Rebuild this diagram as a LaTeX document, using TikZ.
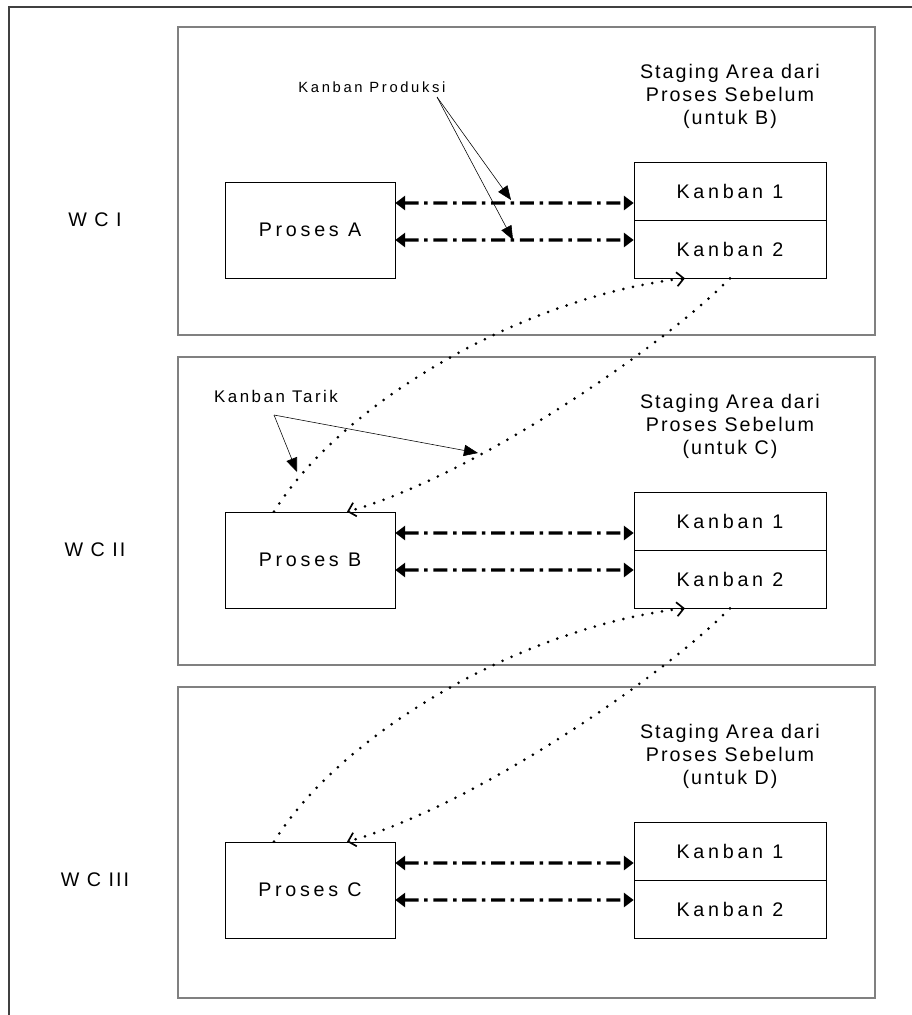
\documentclass[tikz,border=0pt]{standalone}
\usepackage{fontspec}
\setmainfont{Liberation Sans}
\newfontfamily\widefont[LetterSpace=19]{Liberation Sans}
\newfontfamily\midfont[LetterSpace=10]{Liberation Sans}
\newfontfamily\smallfont[LetterSpace=15]{Liberation Sans}
\newfontfamily\tinyfont[LetterSpace=18]{Liberation Sans}
\usetikzlibrary{arrows.meta}

\begin{document}
\begin{tikzpicture}[x=0.025cm, y=-0.025cm,
    frame/.style={draw=black!75, line width=1pt},
    wcbox/.style={rectangle, draw=black!50, line width=1.4pt, minimum width=17.425cm, inner sep=0pt},
    proc/.style={rectangle, draw, thin, minimum width=4.25cm, minimum height=2.4cm, inner sep=0pt, font=\fontsize{14}{16}\widefont},
    kbox/.style={rectangle, draw, thin, minimum width=4.8cm, minimum height=1.45cm, inner sep=0pt, font=\fontsize{14}{16}\widefont},
    stage/.style={align=center, inner sep=0pt, font=\fontsize{14}{16.3}\midfont},
    wclab/.style={font=\fontsize{14}{16}\midfont},
    note/.style={font=\fontsize{12}{14}\smallfont},
    kb/.style={line width=2.4pt, dash pattern=on 10pt off 4pt on 2.5pt off 4pt,
      {Triangle[length=7pt,width=10pt]}-{Triangle[length=7pt,width=10pt]}},
    pull/.style={line width=2.1pt, line cap=round, dash pattern=on 0pt off 7pt,
      -{Straight Barb[length=5pt,width=10pt,line width=1.2pt]}},
    ptr/.style={thin, -{Triangle[length=10pt,width=8pt]}}]

  \useasboundingbox (0,0) rectangle (912,1015);
  \draw[frame] (9,1015) -- (9,7) -- (912,7);

  \foreach \r/\nx/\rom/\dy/\h in {A/B/I/0/308, B/C/II/330/308, C/D/III/660/311} {
    \pgfmathsetmacro{\hh}{\h*0.025}
    \node[wcbox, minimum height=\hh cm] (wc\r) at (526.5, 27+\dy+\h/2) {};
    \node[wclab] (lab\r) at (95, 220+\dy) {W C \rom};
    \node[proc] (pr\r) at (310, 230+\dy) {Proses \r};
    \node[kbox] (ka\r) at (730, 191+\dy) {Kanban 1};
    \node[kbox] (kb\r) at (730, 249+\dy) {Kanban 2};
    \node[stage] (st\r) at (730, 96+\dy) {Staging Area dari\\Proses Sebelum\\(untuk \nx)};
    \draw[kb] ([yshift=0.675cm]pr\r.east) -- ([yshift=-0.3cm]ka\r.west);
    \draw[kb] ([yshift=-0.25cm]pr\r.east) -- ([yshift=0.225cm]kb\r.west);
  }

  \foreach \u/\l in {A/B, B/C} {
    \draw[pull] ([xshift=-0.9cm]pr\l.north) .. controls +(66,-107) and +(-165,19) .. ([xshift=-1.125cm]kb\u.south);
    \draw[pull] (kb\u.south) .. controls +(-70,71) and +(123,-34) .. ([xshift=0.925cm]pr\l.north);
  }

  \node[note, font=\fontsize{10.5}{12}\tinyfont] (prod) at (372, 87) {Kanban Produksi};
  \coordinate (prodO) at (437, 97);
  \coordinate (prodP) at (511, 200);
  \coordinate (prodQ) at (513, 240);
  \draw[ptr] (prodO) -- (prodP);
  \draw[ptr] (prodO) -- (prodQ);

  \node[note] (tarik) at (276, 396) {Kanban Tarik};
  \coordinate (tarikO) at (274, 415);
  \coordinate (tarikP) at (297, 472);
  \coordinate (tarikQ) at (478, 453);
  \draw[ptr] (tarikO) -- (tarikP);
  \draw[ptr] (tarikO) -- (tarikQ);

\end{tikzpicture}
\end{document}
